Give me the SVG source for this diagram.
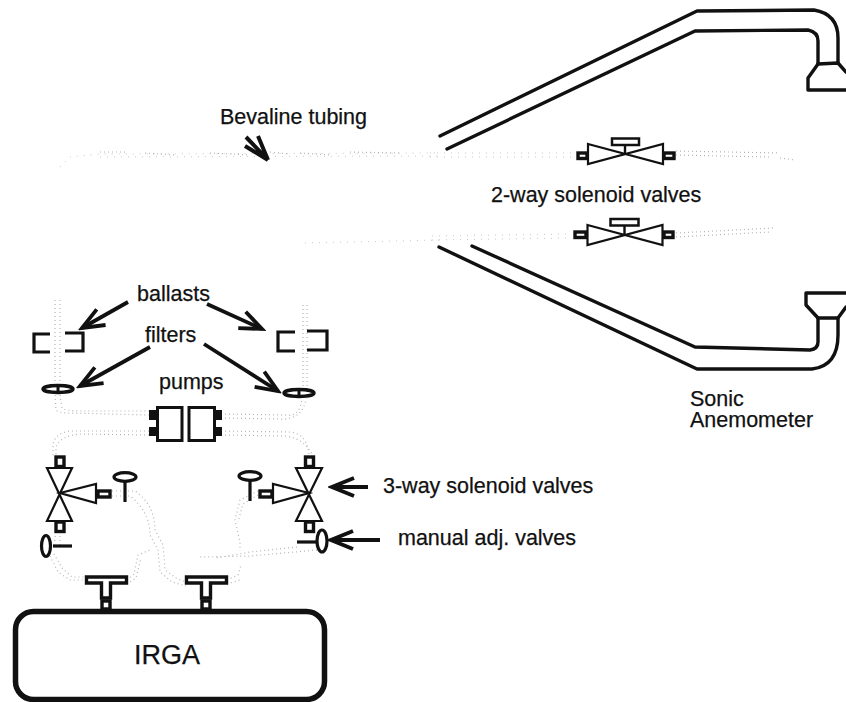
<svg xmlns="http://www.w3.org/2000/svg" width="846" height="702" viewBox="0 0 846 702">
<style>
text{font-family:"Liberation Sans",Arial,sans-serif;font-size:21.5px;fill:#111;stroke:#111;stroke-width:.25}
.o{fill:none;stroke:#111;stroke-width:3.4;stroke-linejoin:round;stroke-linecap:round}
.t{fill:none;stroke:#111;stroke-width:2.200;stroke-linejoin:miter}
.p{fill:#fff;stroke:#111;stroke-width:3.400}
.b{fill:#111}
.k{fill:none;stroke:#111;stroke-width:3.200}
.a{fill:none;stroke:#111;stroke-width:3.800;marker-end:url(#h)}
.d{fill:none;stroke:#b4b4b4;stroke-width:1.200;stroke-dasharray:1 3}
.f{fill:none;stroke:#c8c8c8;stroke-width:1;stroke-dasharray:1 6}
</style>
<defs>
<marker id="h" markerUnits="userSpaceOnUse" markerWidth="28" markerHeight="26" refX="24" refY="13" orient="auto">
<path d="M2,4 L24,13 L2,22" fill="none" stroke="#111" stroke-width="3.800" stroke-linejoin="miter"/>
</marker>
<g id="v2">
<path class="t" d="M-37,-10 L38,10 L38,-10 L-37,10 Z"/>
<rect class="b" x="-1.200" y="-9" width="2.400" height="9"/>
</g>
</defs>

<g id="connectors">
<g id="tubing">
<path class="f" d="M60,167 L70,157 L100,154 L440,153"/>
<path class="f" d="M100,157 L440,156"/>
<path class="d" d="M100,152 L126,152M145,153 L175,155M210,153 L250,155M270,152 L290,154M300,153 L330,155M350,152 L400,153"/>
<path class="f" d="M305,243 L440,240"/>
<path class="f" d="M432,236 L570,234M432,240 L570,238"/>
<path class="f" d="M430,153 L575,153M430,157 L575,157"/>
<path class="d" d="M676,151 L780,153M676,155 L770,157M780,158 L795,160"/>
<path class="d" d="M676,233 L775,228M676,237 L770,232"/>
<path class="d" d="M55,300 L55,386M60,300 L60,386"/>
<path class="d" d="M303,305 L303,390M307,305 L307,390"/>
<path class="d" d="M55,395 L56,410 Q58,413 70,413 L149,415M60,395 L62,408 Q66,411 80,411 L149,411"/>
<path class="d" d="M149,431 L70,431 Q55,433 53,445 L53,456M149,435 L80,434 Q60,436 56,447 L56,456"/>
<path class="d" d="M221,414 L285,415 Q300,418 302,398M221,418 L280,419 Q303,420 306,398"/>
<path class="d" d="M221,431 L290,432 Q308,434 309,456M221,435 L285,436 Q304,438 313,456"/>
<path class="d" d="M112,491 L135,491 Q155,505 155,530 L163,545 L165,570 L176,578 L186,582M112,496 L130,496 Q150,512 150,535 L158,550 L160,572 L172,582 L186,586"/>
<path class="d" d="M56,532 L54,545M60,532 L60,545"/>
<path class="d" d="M50,556 L58,572 L70,580 L86,580M54,554 L62,568 L72,577 L86,577"/>
<path class="d" d="M127,580 L134,574 L138,555 L150,550M127,584 L136,578 L141,558"/>
<path class="d" d="M258,491 L240,500 L235,520 L240,542 L240,551M258,495 L243,504 L238,522"/>
<path class="d" d="M297,547 L250,552 L228,556 L215,558M317,550 L250,556 L200,557"/>
<path class="d" d="M227,580 L238,575 L241,565M227,584 L240,580"/>
</g>
<path class="a" d="M128,302 L82,328"/>
<path class="a" d="M207,304 L262,329"/>
<path class="a" d="M150,347 L80,386"/>
<path class="a" d="M204,344 L278,391"/>
<path class="a" d="M368,487 L332,487"/>
<path class="a" d="M380,540 L331,540"/>
<path d="M246,137 L268,160M258,136 L268,160M245,146 L268,160" fill="none" stroke="#111" stroke-width="4"/>
</g>

<g id="sonic-anemometer">
<path class="o" d="M440,136 L697,11 L814,10 Q838,14 838,38 L838,63"/>
<path class="o" d="M447,149 L695,31 L808,30 Q818,32 818,41 L818,64"/>
<path class="o" d="M818,64 L838,63 L846,72"/>
<path class="o" d="M818,64 L808,78 L808,90 L846,90"/>
<path class="o" d="M439,247 L697,369 L812,369 Q838,366 838,335 L838,318"/>
<path class="o" d="M472,246 L695,347 L810,350 Q818,349 818,342 L818,318"/>
<path class="o" d="M846,293 L806,293 L806,305 L818,318 L838,318 L846,307"/>
</g>

<g id="valve-2way-top">
<use href="#v2" x="625" y="154"/>
<rect x="612" y="138.500" width="27" height="6.500" fill="#fff" stroke="#111" stroke-width="2.500"/>
<rect class="p" x="578" y="153" width="9" height="5.500"/>
<rect class="p" x="664" y="153" width="10" height="5.500"/>
</g>
<g id="valve-2way-bottom">
<use href="#v2" x="624.500" y="235"/>
<rect x="610.500" y="219" width="28" height="6.500" fill="#fff" stroke="#111" stroke-width="2.500"/>
<rect class="p" x="575" y="232" width="11" height="5.500"/>
<rect class="p" x="664" y="232" width="9" height="5.500"/>
</g>

<g id="ballast-left"><path class="k" d="M50,334 L34,334 L34,352 L50,352M65,333 L83,333 L83,351 L65,351"/></g>
<g id="ballast-right"><path class="k" d="M295,332 L278,332 L278,351 L295,351M307,331 L327,331 L327,350 L307,350"/></g>

<g id="filter-left">
<ellipse cx="58" cy="389" rx="15" ry="3.500" fill="#fff" stroke="#111" stroke-width="3.400"/>
<path class="b" d="M56.500,385 h3 v8 h-3 z"/>
</g>
<g id="filter-right">
<ellipse cx="299" cy="393" rx="15" ry="3.500" fill="#fff" stroke="#111" stroke-width="3.400"/>
<path class="b" d="M297.500,389 h3 v8 h-3 z"/>
</g>

<g id="pump-left">
<rect class="b" x="149" y="410" width="9" height="10"/>
<rect class="b" x="149" y="427" width="9" height="9"/>
<rect x="157.500" y="407.500" width="24.500" height="33" fill="#fff" stroke="#111" stroke-width="3"/>
</g>
<g id="pump-right">
<rect class="b" x="214" y="410" width="8" height="10"/>
<rect class="b" x="214" y="427" width="8" height="9"/>
<rect x="189" y="407.500" width="25.500" height="33" fill="#fff" stroke="#111" stroke-width="3"/>
</g>

<g id="valve-3way-left">
<path class="t" d="M47,468 L72,468 L47,521 L72,521 Z"/>
<path class="t" d="M60,493 L96,484 L96,503 Z"/>
<rect class="p" x="56" y="457" width="8" height="9.500"/>
<rect class="p" x="56" y="522" width="8" height="9.500"/>
<rect class="p" x="98" y="491" width="12" height="6"/>
</g>
<g id="valve-3way-right">
<path class="t" d="M296,468 L322,468 L296,521 L322,521 Z"/>
<path class="t" d="M309,493 L273,484 L273,503 Z"/>
<rect class="p" x="305.500" y="457" width="8" height="9.500"/>
<rect class="p" x="305.500" y="522" width="8" height="9.500"/>
<rect class="p" x="260" y="491" width="12" height="6"/>
</g>

<g id="adj-valve-key-left">
<ellipse cx="125" cy="477" rx="11" ry="4.300" fill="#fff" stroke="#111" stroke-width="3.200"/>
<path class="k" d="M125,481 V502"/>
</g>
<g id="adj-valve-key-right">
<ellipse cx="250" cy="476" rx="11" ry="4.300" fill="#fff" stroke="#111" stroke-width="3.200"/>
<path class="k" d="M250,480 V501"/>
</g>
<g id="manual-valve-left">
<ellipse cx="46" cy="546" rx="4.500" ry="10.500" fill="#fff" stroke="#111" stroke-width="3.200"/>
<path class="k" d="M53,546 H72"/>
</g>
<g id="manual-valve-right">
<ellipse cx="322" cy="541" rx="5" ry="11" fill="#fff" stroke="#111" stroke-width="3.200"/>
<path class="k" d="M297,542 H317"/>
</g>

<g id="irga">
<rect x="15.500" y="611.500" width="309" height="88" rx="18" fill="#fff" stroke="#111" stroke-width="5.500"/>
<text x="167" y="664" text-anchor="middle" style="font-size:27px">IRGA</text>
</g>
<g id="fitting-left">
<path class="p" d="M86.500,577 H126.500 V583 H110.500 V598 H101.500 V583 H86.500 Z"/>
<rect x="102" y="601" width="8" height="8" fill="#fff" stroke="#111" stroke-width="3.400"/>
</g>
<g id="fitting-right">
<path class="p" d="M186.500,577 H226.500 V583 H210.500 V598 H201.500 V583 H186.500 Z"/>
<rect x="202" y="601" width="8" height="8" fill="#fff" stroke="#111" stroke-width="3.400"/>
</g>

<g id="labels">
<text x="220" y="124">Bevaline tubing</text>
<text x="491" y="202">2-way solenoid valves</text>
<text x="137" y="301">ballasts</text>
<text x="145" y="342">filters</text>
<text x="159" y="389">pumps</text>
<text x="383" y="493">3-way solenoid valves</text>
<text x="398" y="545">manual adj. valves</text>
<text><tspan x="690" y="406">Sonic</tspan><tspan x="690" y="427">Anemometer</tspan></text>
</g>
</svg>
